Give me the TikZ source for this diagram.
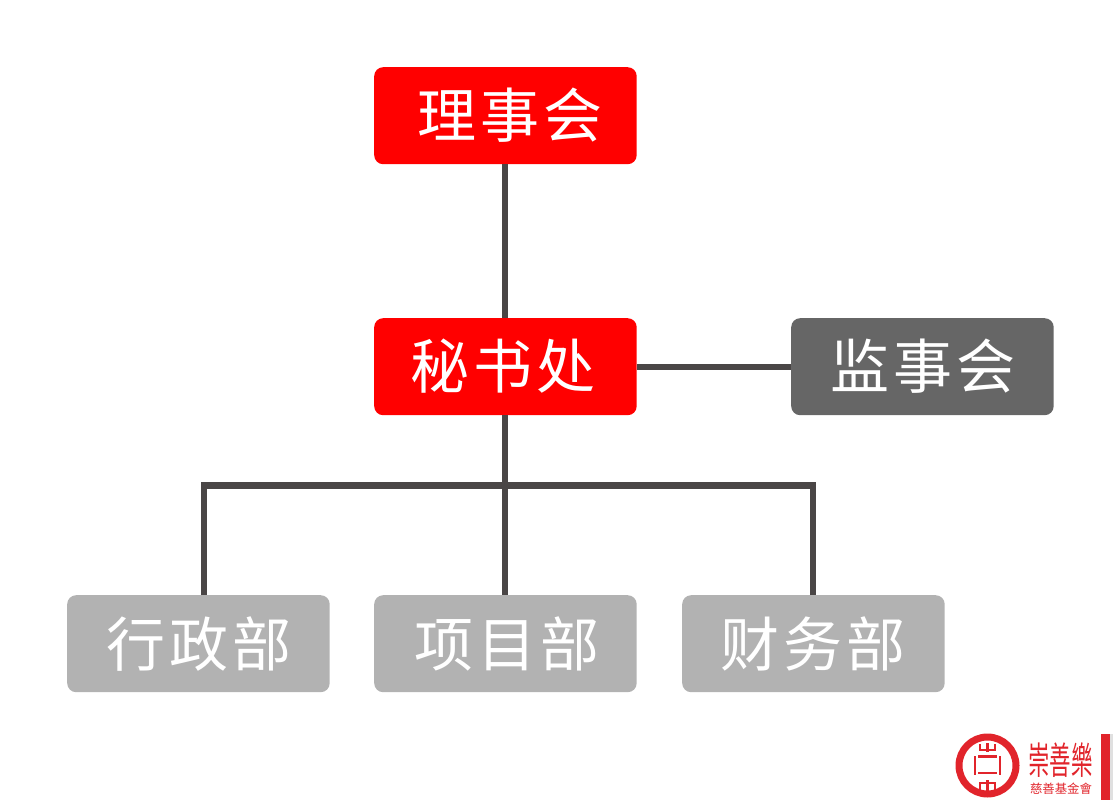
\documentclass[tikz,border=0pt]{standalone}
\usepackage{fontspec}
\newfontfamily\cjk{Noto Sans CJK SC}
\newfontfamily\cjkt{Noto Sans CJK TC}
\definecolor{boxred}{HTML}{FF0000}
\definecolor{boxdark}{HTML}{666666}
\definecolor{boxlight}{HTML}{B2B2B2}
\definecolor{linedark}{HTML}{4A4646}
\definecolor{logored}{HTML}{E1242B}
\newcommand{\bigtxt}[3]{{\fontsize{59}{59}\selectfont #1\hspace{4pt}#2\hspace{4pt}#3}}
\tikzset{
  x=1pt,y=-1pt,
  orgbox/.style={anchor=north west,minimum width=262.5pt,minimum height=97pt,inner sep=0pt,rounded corners=9pt,draw=none},
  lab/.style={text=white,font=\cjk,inner sep=0pt,anchor=center},
  conn/.style={draw=linedark,line width=6pt},
  bus/.style={draw=linedark,line width=7pt},
  logoline/.style={draw=logored,line width=2.6pt}
}
\begin{document}
\begin{tikzpicture}
\useasboundingbox (0,0) rectangle (1120,800);
\node[orgbox,fill=boxred] (li) at (374,67) {};
\node[orgbox,fill=boxred] (mi) at (374,318) {};
\node[orgbox,fill=boxdark] (jian) at (791,318) {};
\node[orgbox,fill=boxlight] (hang) at (67,595) {};
\node[orgbox,fill=boxlight] (xiang) at (374,595) {};
\node[orgbox,fill=boxlight] (cai) at (682,595) {};
\coordinate (busmid) at (505.5,485.5);
\draw[conn] (li.south) -- (mi.north);
\draw[conn] (mi.east) -- (jian.west);
\draw[conn] (mi.south) -- (xiang.north);
\draw[conn] ([xshift=5.75pt]hang.north) -- ([xshift=5.75pt]hang.north |- busmid);
\draw[conn] ([xshift=-0.25pt]cai.north) -- ([xshift=-0.25pt]cai.north |- busmid);
\draw[bus,line cap=rect,shorten >=0.5pt] ([xshift=5.75pt]hang.north |- busmid) -- ([xshift=-0.25pt]cai.north |- busmid);
\node[lab] (tli) at (510,115) {\bigtxt{理}{事}{会}};
\node[lab] (tmi) at (503,366) {\bigtxt{秘}{书}{处}};
\node[lab] (tjian) at (923,366) {\bigtxt{监}{事}{会}};
\node[lab] (thang) at (199,644) {\bigtxt{行}{政}{部}};
\node[lab] (txiang) at (507,644) {\bigtxt{项}{目}{部}};
\node[lab] (tcai) at (813,644) {\bigtxt{财}{务}{部}};
% logo
\draw[draw=logored,line width=7pt] (987.5,765.5) circle (28.5pt);
\draw[logoline] (987.5,743) -- (987.5,752);
\draw[logoline] (979,750) -- (996,750);
\draw[logoline] (980,744) -- (980,750);
\draw[logoline] (995,744) -- (995,750);
\draw[logoline] (975,756) -- (975,775);
\draw[logoline] (1000,756) -- (1000,775);
\draw[logoline] (978,756.5) -- (997,756.5);
\draw[logoline] (978,773) -- (997,773);
\draw[logoline] (979,783) -- (996,783);
\draw[logoline] (987.5,780) -- (987.5,793);
\draw[logoline] (980,783) -- (980,790);
\draw[logoline] (995,783) -- (995,790);
\node[inner sep=0pt,text=logored,font=\cjkt,yscale=1.75] (logoa) at (1060.5,760) {\fontsize{21.5}{21.5}\selectfont 崇善樂};
\node[inner sep=0pt,text=logored,font=\cjkt] (logob) at (1061,789) {\fontsize{12.4}{12.4}\selectfont 慈善基金會};
\fill[logored] (1101,734) rectangle (1110,800);
\fill[black!12] (1110,734) rectangle (1113,800);
\end{tikzpicture}
\end{document}
